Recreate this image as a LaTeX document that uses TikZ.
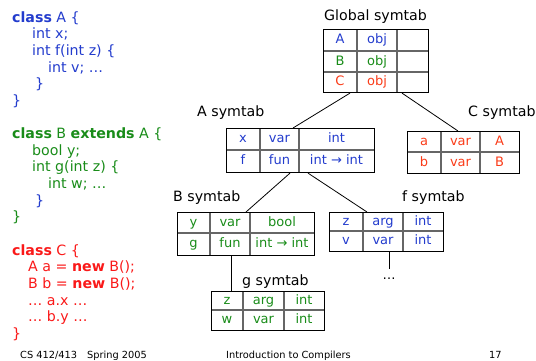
\documentclass[tikz,border=0pt]{standalone}
\usepackage{fontspec}
\setmainfont{DejaVu Sans}
\usetikzlibrary{calc}

\definecolor{clsblue}{RGB}{35,60,205}
\definecolor{clsgreen}{RGB}{25,140,25}
\definecolor{clsred}{RGB}{250,25,25}
\definecolor{tabred}{RGB}{250,60,25}

\begin{document}
\begin{tikzpicture}[x=1pt,y=-1pt,
    code/.style={anchor=base west, align=left, inner sep=0, font=\fontsize{14.2}{16.65}\selectfont},
    ttl/.style={anchor=base west, inner sep=0, font=\fontsize{14.2}{17}\selectfont},
    frame/.style={draw, line width=1.1pt, anchor=north west, inner sep=0},
    sep/.style={draw=black!60, line width=1.1pt},
    cell/.style={inner sep=0, text height=9.5, text depth=2.5, font=\fontsize{13}{15}\selectfont},
    link/.style={draw, line width=0.8pt},
    foot/.style={anchor=base west, inner sep=0, font=\fontsize{9.8}{12}\selectfont}]
    \useasboundingbox (0,0) rectangle (536,360);

    % Source code (placed by the baseline of the last line)
    \node[code, text=clsblue] (clsA) at (12,105.3) {\textbf{class} A \{\\
        \hspace*{20pt}int x;\\
        \hspace*{20pt}int f(int z) \{\\
        \hspace*{36pt}int v; …\\
        \hspace*{23pt}\}\\
        \}};
    \node[code, text=clsgreen] (clsB) at (12,221.9) {\textbf{class} B \textbf{extends} A \{\\
        \hspace*{20pt}bool y;\\
        \hspace*{20pt}int g(int z) \{\\
        \hspace*{36pt}int w; …\\
        \hspace*{23pt}\textcolor{clsblue}{\}}\\
        \}};
    \node[code, text=clsred] (clsC) at (12,338.3) {\textbf{class} C \{\\
        \hspace*{16pt}A a = \textbf{new} B();\\
        \hspace*{16pt}B b = \textbf{new} B();\\
        \hspace*{16pt}… a.x …\\
        \hspace*{16pt}… b.y …\\
        \}};

    % Table separators
    \draw[sep] (357,29) -- (357,92) (397,29) -- (397,92) (323,51) -- (428,51) (323,72) -- (428,72);
    \draw[sep] (260,128) -- (260,172) (299,128) -- (299,172) (226,150) -- (374,150);
    \draw[sep] (441,131) -- (441,173) (480,131) -- (480,173) (407,152) -- (519,152);
    \draw[sep] (210,212) -- (210,255) (250,212) -- (250,255) (177,233) -- (314,233);
    \draw[sep] (363,212) -- (363,251) (403,212) -- (403,251) (329,231) -- (443,231);
    \draw[sep] (243,291) -- (243,330) (284,291) -- (284,330) (211,310) -- (324,310);

    % Tables
    \node[frame, minimum width=105, minimum height=63] (glob) at (323,29) {};
    \node[frame, minimum width=148, minimum height=44] (atab) at (226,128) {};
    \node[frame, minimum width=112, minimum height=42] (ctab) at (407,131) {};
    \node[frame, minimum width=137, minimum height=43] (btab) at (177,212) {};
    \node[frame, minimum width=114, minimum height=39] (ftab) at (329,212) {};
    \node[frame, minimum width=113, minimum height=39] (gtab) at (211,291) {};

    % Titles
    \node[ttl] (globttl) at (324,20) {Global symtab};
    \node[ttl] (attl) at (197,116) {A symtab};
    \node[ttl] (cttl) at (468,116) {C symtab};
    \node[ttl] (bttl) at (173,201.5) {B symtab};
    \node[ttl] (fttl) at (402,201.5) {f symtab};
    \node[ttl] (gttl) at (242,285) {g symtab};

    % Global entries
    \node[cell, text=clsblue] (gA) at (340,40) {A};
    \node[cell, text=clsblue] (gAk) at (377,40) {obj};
    \node[cell, text=clsgreen] (gB) at (340,61.5) {B};
    \node[cell, text=clsgreen] (gBk) at (377,61.5) {obj};
    \node[cell, text=tabred] (gC) at (340,82) {C};
    \node[cell, text=tabred] (gCk) at (377,82) {obj};

    % A entries
    \node[cell, text=clsblue] (ax) at (243,139) {x};
    \node[cell, text=clsblue] (axk) at (279.5,139) {var};
    \node[cell, text=clsblue] (axt) at (336.5,139) {int};
    \node[cell, text=clsblue] (af) at (243,161) {f};
    \node[cell, text=clsblue] (afk) at (279.5,161) {fun};
    \node[cell, text=clsblue] (aft) at (336.5,161) {int → int};

    % C entries
    \node[cell, text=tabred] (ca) at (424,141.5) {a};
    \node[cell, text=tabred] (cak) at (460.5,141.5) {var};
    \node[cell, text=tabred] (cat) at (499.5,141.5) {A};
    \node[cell, text=tabred] (cb) at (424,162.5) {b};
    \node[cell, text=tabred] (cbk) at (460.5,162.5) {var};
    \node[cell, text=tabred] (cbt) at (499.5,162.5) {B};

    % B entries
    \node[cell, text=clsgreen] (by) at (193.5,222.5) {y};
    \node[cell, text=clsgreen] (byk) at (230,222.5) {var};
    \node[cell, text=clsgreen] (byt) at (282,222.5) {bool};
    \node[cell, text=clsgreen] (bg) at (193.5,244) {g};
    \node[cell, text=clsgreen] (bgk) at (230,244) {fun};
    \node[cell, text=clsgreen] (bgt) at (282,244) {int → int};

    % f entries
    \node[cell, text=clsblue] (fz) at (346,221.5) {z};
    \node[cell, text=clsblue] (fzk) at (383,221.5) {arg};
    \node[cell, text=clsblue] (fzt) at (423,221.5) {int};
    \node[cell, text=clsblue] (fv) at (346,241) {v};
    \node[cell, text=clsblue] (fvk) at (383,241) {var};
    \node[cell, text=clsblue] (fvt) at (423,241) {int};

    % g entries
    \node[cell, text=clsgreen] (gz) at (227,300.5) {z};
    \node[cell, text=clsgreen] (gzk) at (263.5,300.5) {arg};
    \node[cell, text=clsgreen] (gzt) at (304,300.5) {int};
    \node[cell, text=clsgreen] (gw) at (227,320) {w};
    \node[cell, text=clsgreen] (gwk) at (263.5,320) {var};
    \node[cell, text=clsgreen] (gwt) at (304,320) {int};

    \node[cell, anchor=base] (more) at (389,279) {…};

    % Scope links
    \draw[link] ($(glob.south west)+(27,0)$) -- ($(atab.north west)+(67,0)$);
    \draw[link] ($(glob.south west)+(79,0)$) -- ($(ctab.north west)+(51,0)$);
    \draw[link] ($(atab.south west)+(64,0)$) -- ($(btab.north west)+(69,0)$);
    \draw[link] ($(atab.south west)+(82,0)$) -- ($(ftab.north west)+(38,0)$);
    \draw[link] ($(btab.south west)+(54,0)$) -- ($(gtab.north west)+(20,0)$);
    \draw[link] ($(ftab.south west)+(60,0)$) -- (more.north);

    % Footer
    \node[foot] (course) at (20,358.5) {CS 412/413\hspace{7pt} Spring 2005};
    \node[foot] (title) at (226,358.5) {Introduction to Compilers};
    \node[foot] (page) at (489,358.5) {17};
\end{tikzpicture}
\end{document}
